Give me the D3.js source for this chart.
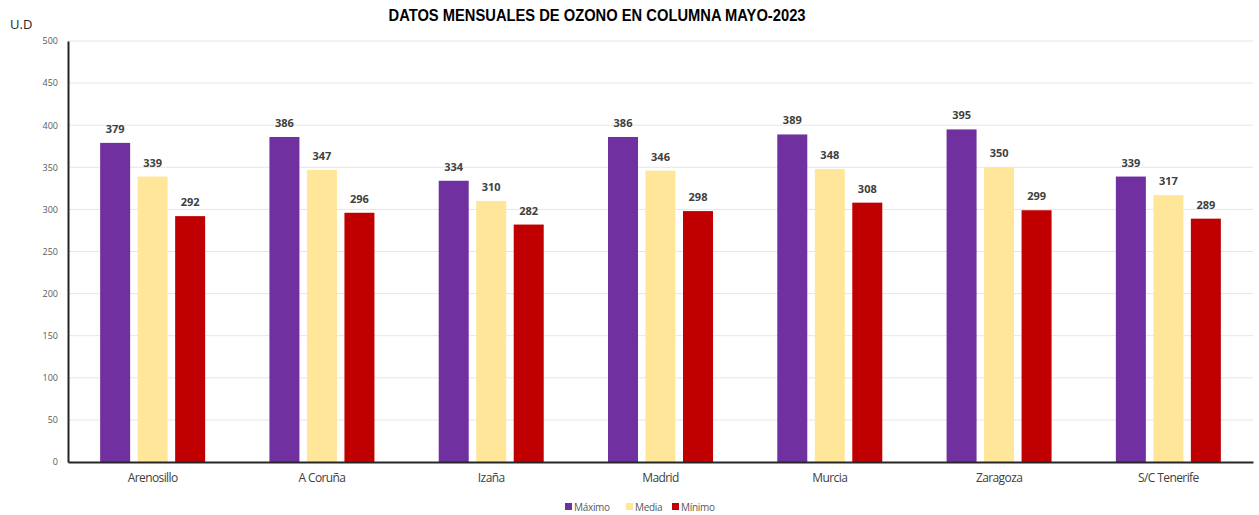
<!DOCTYPE html>
<html>
<head>
<meta charset="utf-8">
<script src="https://cdn.jsdelivr.net/npm/d3@7"></script>
<style>
  body { margin: 0; background: #fff; }
  svg { display: block; }
</style>
</head>
<body>
<svg width="1259" height="515"></svg>
<script>
var estaciones = ["Arenosillo", "A Coruña", "Izaña", "Madrid", "Murcia", "Zaragoza", "S/C Tenerife"];
var series = ["Máximo", "Media", "Mínimo"];
var maximo = [379, 386, 334, 386, 389, 395, 339];
var media = [339, 347, 310, 346, 348, 350, 317];
var minimo = [292, 296, 282, 298, 308, 299, 289];
var yTicks = [0, 50, 100, 150, 200, 250, 300, 350, 400, 450, 500];

var colores = ["#7030A0", "#FFE699", "#C00000"];
var valores = [maximo, media, minimo];

var svg = d3.select("svg");
var mLeft = 68, mRight = 1253, mTop = 41, mBottom = 462;
var narrow = "'Liberation Sans Narrow', 'Arial Narrow', 'Liberation Sans', sans-serif";

var xScale = d3.scaleBand().domain(estaciones).range([mLeft, mRight]);
var yScale = d3.scaleLinear().domain([0, 500]).range([mBottom, mTop]);
var barW = 30, step = 37.5;

// grid
svg.append("g")
    .selectAll("line")
    .data(yTicks.slice(1))
    .enter().append("line")
    .attr("x1", mLeft).attr("x2", mRight)
    .attr("y1", function(d) { return yScale(d); })
    .attr("y2", function(d) { return yScale(d); })
    .attr("stroke", "#e6e6e6")
    .attr("stroke-width", 1);

// bars
var data = [];
estaciones.forEach(function(e, i) {
    series.forEach(function(s, j) {
        data.push({est: e, s: j, value: valores[j][i]});
    });
});

var g = svg.append("g");
g.selectAll(".bar")
    .data(data)
    .enter().append("rect")
    .attr("class", "bar")
    .attr("x", function(d) { return xScale(d.est) + xScale.bandwidth() / 2 + (d.s - 1) * step - barW / 2; })
    .attr("y", function(d) { return yScale(d.value); })
    .attr("width", barW)
    .attr("height", function(d) { return mBottom - yScale(d.value); })
    .attr("fill", function(d) { return colores[d.s]; });

g.selectAll(".lbl")
    .data(data)
    .enter().append("text")
    .attr("class", "lbl")
    .attr("x", function(d) { return xScale(d.est) + xScale.bandwidth() / 2 + (d.s - 1) * step; })
    .attr("y", function(d) { return yScale(d.value) - 10; })
    .attr("text-anchor", "middle")
    .attr("font-family", "'Open Sans', sans-serif")
    .attr("font-weight", "bold")
    .attr("font-size", "11px")
    .attr("fill", "#404040")
    .text(function(d) { return d.value; });

// axes
var yAxis = svg.append("g")
    .attr("transform", "translate(" + mLeft + ",0)")
    .call(d3.axisLeft(yScale).tickValues(yTicks).tickSize(0).tickPadding(10));
yAxis.select(".domain").attr("stroke", "#262626").attr("stroke-width", 2);
yAxis.selectAll("text")
    .attr("font-family", "'Open Sans', sans-serif")
    .attr("font-size", "9px")
    .attr("fill", "#595959");

var xAxis = svg.append("g")
    .attr("transform", "translate(0," + mBottom + ")")
    .call(d3.axisBottom(xScale).tickSize(0).tickPadding(11));
xAxis.select(".domain").attr("stroke", "#262626").attr("stroke-width", 2);
xAxis.selectAll("text")
    .attr("font-family", "'Open Sans', sans-serif")
    .attr("font-size", "12px")
    .attr("letter-spacing", "-0.6px")
    .attr("fill", "#404040");

// title
svg.append("text")
    .attr("x", 597).attr("y", 21)
    .attr("text-anchor", "middle")
    .attr("font-family", narrow)
    .attr("font-weight", "bold")
    .attr("font-size", "17px")
    .attr("textLength", 417)
    .attr("lengthAdjust", "spacingAndGlyphs")
    .attr("fill", "#000")
    .text("DATOS MENSUALES DE OZONO EN COLUMNA MAYO-2023");

svg.append("text")
    .attr("x", 10).attr("y", 29)
    .attr("font-family", "'Open Sans', sans-serif")
    .attr("font-size", "13px")
    .attr("fill", "#262626")
    .text("U.D");

// legend
var legX = [565, 626, 672];
var leg = svg.append("g");
series.forEach(function(s, j) {
    leg.append("rect")
        .attr("x", legX[j]).attr("y", 503)
        .attr("width", 7).attr("height", 7)
        .attr("fill", colores[j]);
    leg.append("text")
        .attr("x", legX[j] + 9).attr("y", 511)
        .attr("font-family", "'Open Sans', sans-serif")
        .attr("font-size", "10px")
        .attr("letter-spacing", "-0.3px")
        .attr("fill", "#595959")
        .text(s);
});
</script>
</body>
</html>
